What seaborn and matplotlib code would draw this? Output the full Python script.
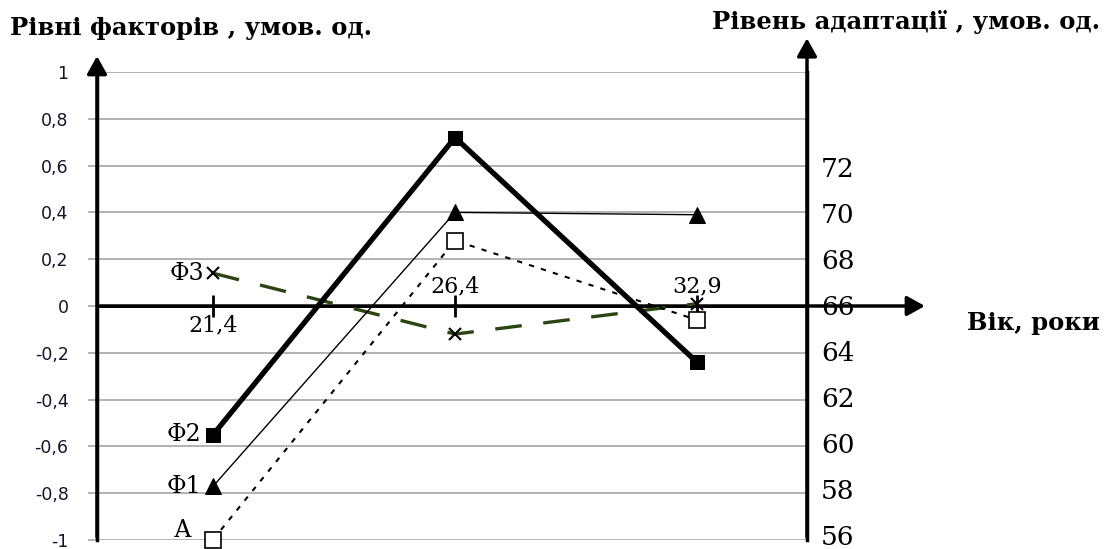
import matplotlib
matplotlib.use("Agg")
import matplotlib.pyplot as plt
import seaborn as sns
import numpy as np
import pandas as pd

# ---- data ----
ages = ["21,4", "26,4", "32,9"]
f1 = [-0.77, 0.40, 0.39]
f2 = [-0.55, 0.72, -0.24]
f3 = [0.14, -0.12, 0.01]
adapt = [55.8, 68.8, 65.35]
left_ticks = [-1, -0.8, -0.6, -0.4, -0.2, 0, 0.2, 0.4, 0.6, 0.8, 1]
right_ticks = [56, 58, 60, 62, 64, 66, 68, 70, 72]

sns.set_theme(style="white")
plt.rcParams['font.family'] = ['DejaVu Serif']
plt.rcParams['text.color'] = 'black'
plt.rcParams['xtick.color'] = 'black'
plt.rcParams['ytick.color'] = 'black'

pos = np.arange(len(ages))
df = pd.DataFrame({"pos": pos, "f1": f1, "f2": f2, "f3": f3, "adapt": adapt})

fig = plt.figure(figsize=(11.05, 5.49), dpi=100)
ax = fig.add_axes([97/1105, 1-540/549, 710/1105, 468/549])
ax.set_xlim(-0.48, 2.455)
ax.set_ylim(-1, 1)

# grid
ax.set_yticks(left_ticks)
ax.set_yticklabels([("%g" % v).replace(".", ",") for v in left_ticks],
                   fontfamily="DejaVu Sans", fontsize=12.5, color="#15152a")
ax.grid(axis="y", color="#a6a6a6", lw=1.2)
ax.grid(axis="x", visible=False)
ax.tick_params(axis="y", length=6.5, width=1.2, color="#a6a6a6", pad=14, left=True)

for s in ["top", "right"]:
    ax.spines[s].set_visible(False)
ax.spines["left"].set_color("black")
ax.spines["left"].set_linewidth(2.5)
ax.spines["bottom"].set_position(("data", 0))
ax.spines["bottom"].set_color("black")
ax.spines["bottom"].set_linewidth(2)
ax.set_xticks(pos)
ax.set_xticklabels([])
ax.tick_params(axis="x", direction="inout", length=16, width=2, color="black", bottom=True)

# twin axis for adaptation level
ax2 = ax.twinx()
ax2.set_ylim(55.78, 76.13)
ax2.set_yticks(right_ticks)
ax2.set_yticklabels([str(v) for v in right_ticks], fontsize=19, fontfamily="DejaVu Serif",
                    color="black")
ax2.tick_params(axis="y", length=0, pad=10)
ax2.grid(False)
for s in ["top", "left", "bottom"]:
    ax2.spines[s].set_visible(False)
ax2.spines["right"].set_color("black")
ax2.spines["right"].set_linewidth(2.5)

# series
sns.lineplot(data=df, x="pos", y="f3", ax=ax, color="#2a4412", lw=2.4,
             dashes=False, linestyle=(0, (8, 6.5)), marker="x", markersize=9,
             markeredgecolor="black", markeredgewidth=1.5, clip_on=False, zorder=4)
sns.lineplot(data=df, x="pos", y="f2", ax=ax, color="black", lw=3.8,
             marker="s", markersize=10, markeredgecolor="black", clip_on=False, zorder=5)
sns.lineplot(data=df, x="pos", y="f1", ax=ax, color="black", lw=1.0,
             marker="^", markersize=12, markeredgecolor="black", clip_on=False, zorder=5)
sns.lineplot(data=df, x="pos", y="adapt", ax=ax2, color="black", lw=1.5,
             linestyle=(0, (2.5, 3.5)), marker="s", markersize=11,
             markerfacecolor="white", markeredgecolor="black", markeredgewidth=1.2,
             clip_on=False, zorder=5)
ax.set_xlabel("")
ax.set_ylabel("")
ax2.set_xlabel("")
ax2.set_ylabel("")
ax.set_xlim(-0.48, 2.455)

# category labels on the age axis
ax.text(pos[0], -0.035, ages[0], ha="center", va="top", fontsize=16)
ax.text(pos[1], 0.035, ages[1], ha="center", va="bottom", fontsize=16)
ax.text(pos[2], 0.035, ages[2], ha="center", va="bottom", fontsize=16)

# series labels
ax.text(pos[0] - 0.035, f3[0], "Ф3", ha="right", va="center", fontsize=17)
ax.text(pos[0] - 0.05, f2[0], "Ф2", ha="right", va="center", fontsize=17)
ax.text(pos[0] - 0.05, f1[0], "Ф1", ha="right", va="center", fontsize=17)
ax.text(pos[0] - 0.09, -0.96, "А", ha="right", va="center", fontsize=17)

# arrows for the axes
arrow = dict(arrowstyle="-|>,head_length=0.9,head_width=0.5", color="black", lw=2.5)
ax.annotate("", xy=(0, 1.04), xytext=(0, 0.0), xycoords="axes fraction",
            textcoords="axes fraction", arrowprops=arrow, annotation_clip=False)
ax.annotate("", xy=(1, 1.078), xytext=(1, 0.0), xycoords="axes fraction",
            textcoords="axes fraction", arrowprops=arrow, annotation_clip=False)
ax.annotate("", xy=(1.17, 0), xytext=(0, 0),
            xycoords=("axes fraction", "data"), textcoords=("axes fraction", "data"),
            arrowprops=arrow, annotation_clip=False)

# titles
fig.text(10/1105, 1-28/549, "Рівні факторів , умов. од.", ha="left", va="center",
         fontsize=17.5, fontweight="bold")
fig.text(1100/1105, 1-22/549, "Рівень адаптації , умов. од.", ha="right", va="center",
         fontsize=17.5, fontweight="bold")
fig.text(1100/1105, 1-323/549, "Вік, роки", ha="right", va="center",
         fontsize=17.5, fontweight="bold")

fig.savefig("out.png", dpi=100)
